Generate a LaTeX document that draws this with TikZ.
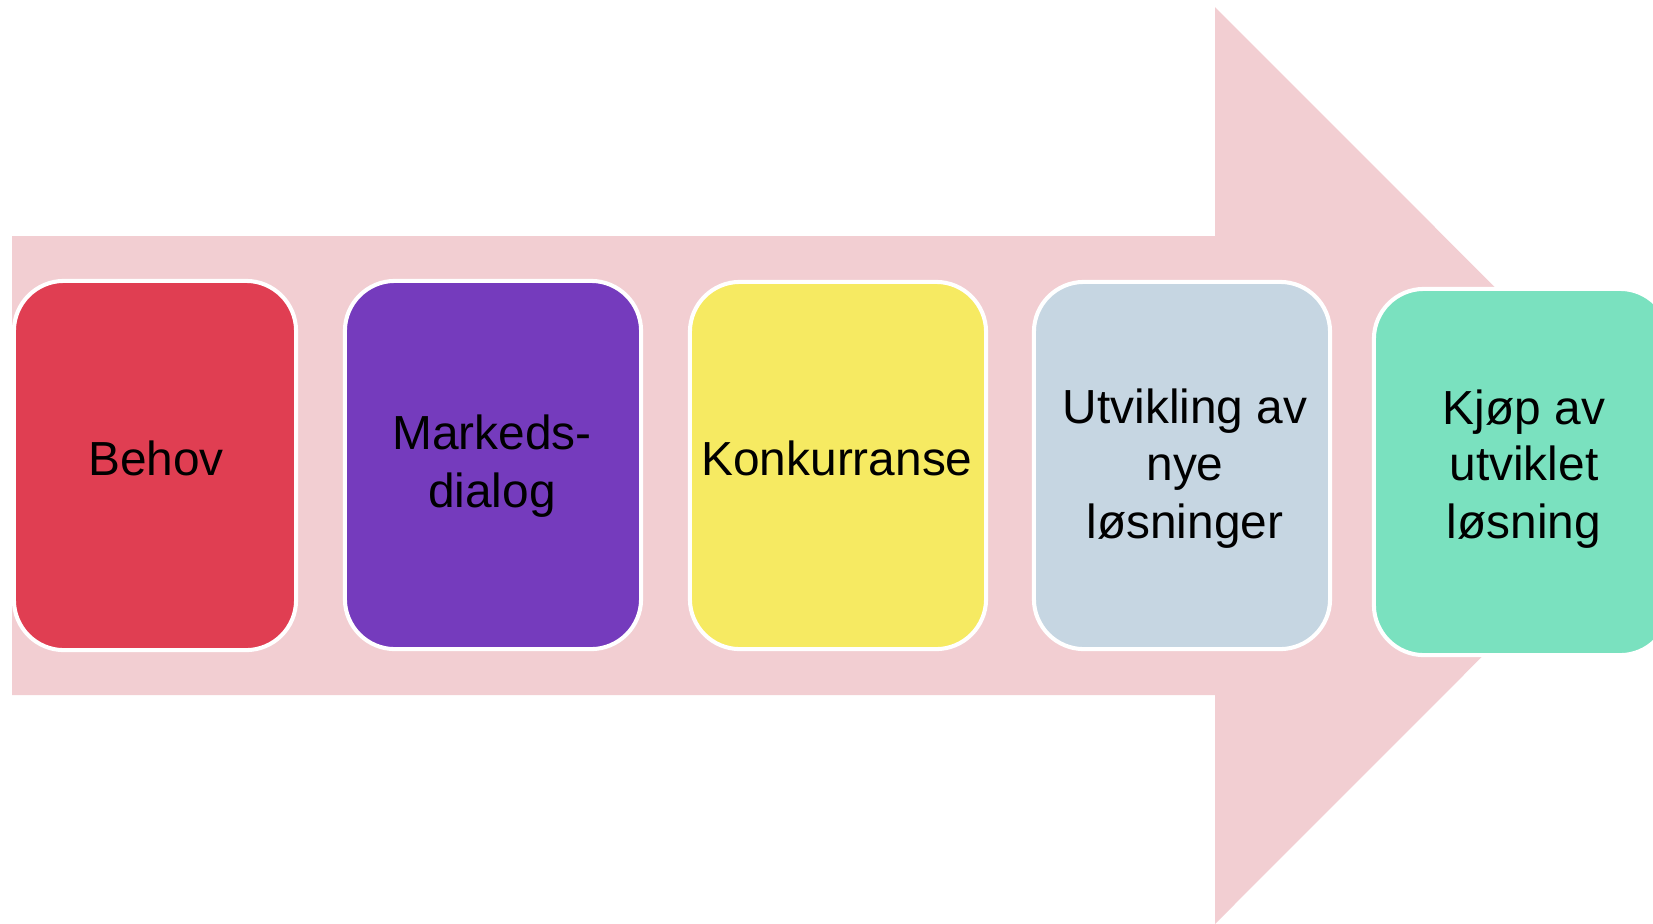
\documentclass[tikz,border=0pt]{standalone}
\usepackage{fontspec}
\setmainfont{Liberation Sans}
\definecolor{arrowpink}{RGB}{242,206,210}
\definecolor{cred}{RGB}{224,62,82}
\definecolor{cpurple}{RGB}{117,59,189}
\definecolor{cyellow}{RGB}{246,234,98}
\definecolor{cblue}{RGB}{198,214,226}
\definecolor{cmint}{RGB}{122,225,191}
\tikzset{
  stagebox/.style={draw=white, line width=1.15pt, rounded corners=0.5cm, inner sep=0pt, minimum width=2.96cm},
  label/.style={anchor=base, inner sep=0pt, text=black, font=\fontsize{13.6}{16.5}\selectfont}
}
\begin{document}
\begin{tikzpicture}[x=0.01cm,y=-0.01cm]
\useasboundingbox (0,0) rectangle (1653,923);
\clip (0,0) rectangle (1653,923);
% big arrow
\fill[arrowpink] (12,236) -- (1215,236) -- (1215,7) -- (1673,465.5) -- (1215,924) -- (1215,695) -- (12,695) -- cycle;
% boxes
\node[stagebox, fill=cred, minimum width=2.82cm, minimum height=3.69cm] (b1) at (155,465.5) {};
\node[stagebox, fill=cpurple, minimum height=3.68cm] (b2) at (493,465) {};
\node[stagebox, fill=cyellow, minimum height=3.67cm] (b3) at (838,465.5) {};
\node[stagebox, fill=cblue, minimum height=3.67cm] (b4) at (1182,465.5) {};
\node[stagebox, fill=cmint, minimum height=3.66cm] (b5) at (1522,472) {};
% labels
\node[label] (t1) at (156,475) {Behov};
\node[label] (t2a) at (492,449.3) {Markeds-};
\node[label] (t2b) at (492,507.3) {dialog};
\node[label] (t3) at (837,475) {Konkurranse};
\node[label] (t4a) at (1185,423.3) {Utvikling av};
\node[label] (t4b) at (1185,480.7) {nye};
\node[label] (t4c) at (1185,538.3) {løsninger};
\node[label] (t5a) at (1524,424) {Kjøp av};
\node[label] (t5b) at (1524,480.7) {utviklet};
\node[label] (t5c) at (1524,538.3) {løsning};
\end{tikzpicture}
\end{document}
